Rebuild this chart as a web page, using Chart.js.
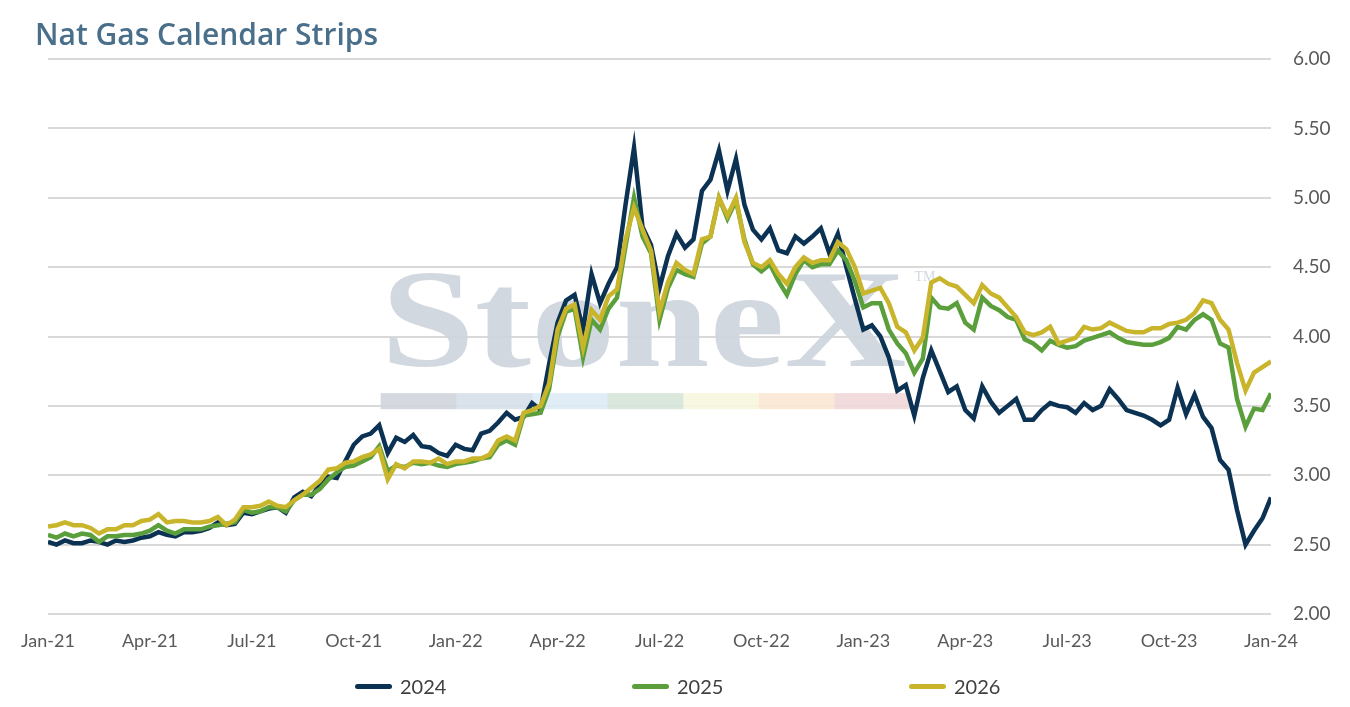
<!DOCTYPE html>
<html>
<head>
<meta charset="utf-8">
<script src="https://cdn.jsdelivr.net/npm/chart.js@4.4.1/dist/chart.umd.min.js"></script>
<style>
  body { margin: 0; background: #fff; }
  .wrap { position: relative; width: 1350px; height: 707px; }
  .legend { position: absolute; left: 355px; top: 674px; display: flex; font-family: Lato, sans-serif; font-size: 20px; color: #404040; }
  .legend .item { width: 277px; display: flex; align-items: center; }
  .legend .swatch { width: 37px; height: 5px; border-radius: 3px; margin-right: 8px; }
</style>
</head>
<body>
<div class="wrap">
  <canvas id="chart"></canvas>
  <div class="legend" id="legend"></div>
</div>
<script>
// quarterly tick labels, one every 3 months
const tickLabels = ['Jan-21','Apr-21','Jul-21','Oct-21','Jan-22','Apr-22','Jul-22','Oct-22','Jan-23','Apr-23','Jul-23','Oct-23','Jan-24'];
const seriesNames = ['2024', '2025', '2026'];
const seriesColors = ['#0b3253', '#5b9f3c', '#c9b52c'];

// weekly readings (4 per month) from Jan-21 to Jan-24
const strip2024 = [
  2.52,2.50,2.53,2.51, 2.51,2.53,2.52,2.50, 2.53,2.52,2.53,2.55, 2.56,2.59,2.57,2.56,
  2.59,2.59,2.60,2.62, 2.66,2.64,2.65,2.73, 2.72,2.74,2.76,2.77, 2.73,2.84,2.88,2.85,
  2.93,2.99,2.98,3.10, 3.22,3.28,3.30,3.36, 3.16,3.27,3.24,3.29, 3.21,3.20,3.16,3.14,
  3.22,3.19,3.18,3.30, 3.32,3.38,3.45,3.40, 3.42,3.52,3.47,3.80, 4.10,4.26,4.30,4.05,
  4.45,4.24,4.38,4.50, 4.95,5.36,4.79,4.66, 4.35,4.58,4.74,4.64, 4.70,5.05,5.13,5.34,
  5.05,5.28,4.95,4.77, 4.70,4.78,4.62,4.60, 4.72,4.67,4.72,4.78, 4.60,4.74,4.50,4.27,
  4.05,4.08,4.00,3.85, 3.61,3.65,3.43,3.70, 3.90,3.75,3.60,3.64, 3.47,3.41,3.64,3.53,
  3.45,3.50,3.55,3.40, 3.40,3.47,3.52,3.50, 3.49,3.45,3.52,3.47, 3.50,3.62,3.55,3.47,
  3.45,3.43,3.40,3.36, 3.40,3.63,3.44,3.58, 3.42,3.34,3.11,3.04, 2.75,2.50,2.60,2.69,
  2.84
];
const strip2025 = [
  2.57,2.55,2.58,2.56, 2.58,2.57,2.52,2.56, 2.56,2.57,2.57,2.58, 2.60,2.64,2.60,2.58,
  2.61,2.61,2.61,2.63, 2.64,2.65,2.66,2.75, 2.73,2.74,2.77,2.77, 2.74,2.82,2.86,2.86,
  2.90,2.97,3.02,3.06, 3.07,3.10,3.13,3.21, 3.03,3.07,3.06,3.09, 3.08,3.09,3.07,3.06,
  3.08,3.09,3.10,3.12, 3.13,3.22,3.25,3.22, 3.43,3.44,3.45,3.62, 4.00,4.18,4.20,3.85,
  4.12,4.05,4.20,4.28, 4.65,5.00,4.72,4.60, 4.12,4.35,4.48,4.45, 4.43,4.67,4.72,5.00,
  4.85,4.98,4.70,4.52, 4.47,4.52,4.40,4.30, 4.45,4.55,4.50,4.52, 4.52,4.62,4.55,4.40,
  4.21,4.24,4.24,4.05, 3.95,3.88,3.74,3.84, 4.28,4.21,4.20,4.24, 4.10,4.05,4.28,4.22,
  4.19,4.14,4.12,3.98, 3.95,3.90,3.97,3.94, 3.92,3.93,3.97,3.99, 4.01,4.03,3.99,3.96,
  3.95,3.94,3.94,3.96, 3.99,4.07,4.05,4.12, 4.16,4.12,3.95,3.92, 3.55,3.35,3.48,3.47,
  3.59
];
const strip2026 = [
  2.63,2.64,2.66,2.64, 2.64,2.62,2.58,2.61, 2.61,2.64,2.64,2.67, 2.68,2.72,2.66,2.67,
  2.67,2.66,2.66,2.67, 2.70,2.64,2.68,2.77, 2.77,2.78,2.81,2.78, 2.77,2.82,2.86,2.91,
  2.96,3.04,3.05,3.09, 3.10,3.13,3.15,3.19, 2.97,3.08,3.05,3.10, 3.10,3.09,3.12,3.08,
  3.10,3.10,3.12,3.12, 3.15,3.25,3.28,3.25, 3.45,3.47,3.50,3.66, 4.05,4.20,4.23,3.92,
  4.19,4.12,4.29,4.34, 4.70,4.93,4.77,4.62, 4.18,4.39,4.53,4.48, 4.45,4.70,4.72,5.00,
  4.87,5.00,4.68,4.53, 4.50,4.55,4.45,4.38, 4.50,4.57,4.53,4.55, 4.55,4.68,4.63,4.50,
  4.31,4.33,4.35,4.24, 4.07,4.03,3.90,3.99, 4.39,4.42,4.38,4.36, 4.30,4.24,4.37,4.31,
  4.28,4.21,4.14,4.03, 4.01,4.03,4.07,3.95, 3.97,3.99,4.07,4.05, 4.06,4.10,4.07,4.04,
  4.03,4.03,4.06,4.06, 4.09,4.10,4.12,4.17, 4.26,4.24,4.12,4.05, 3.81,3.61,3.74,3.78,
  3.82
];

const allSeries = [strip2024, strip2025, strip2026];

// months since Jan-21 for each weekly reading
const toPoints = vals => vals.map((v, i) => ({ x: i / 4, y: v }));

// faint StoneX watermark behind the lines
const watermark = {
  id: 'watermark',
  beforeDatasetsDraw(chart) {
    const { ctx, chartArea: a } = chart;
    const w = a.right - a.left, h = a.bottom - a.top;
    const x0 = a.left + w * 0.272, span = w * 0.43;
    ctx.save();
    ctx.globalAlpha = 0.9;
    ctx.fillStyle = '#cdd4dd';
    ctx.font = 'bold 140px "Liberation Serif", serif';
    ctx.textBaseline = 'alphabetic';
    const tw = ctx.measureText('StoneX').width;
    ctx.save();
    ctx.translate(x0, a.top + h * 0.553);
    ctx.scale(span / tw, 1);
    ctx.fillText('StoneX', 0, 0);
    ctx.restore();
    ctx.font = '14px "Liberation Serif", serif';
    ctx.fillText('TM', x0 + span + 8, a.top + h * 0.40);
    const bar = ['#d0d5dc', '#d6dfe9', '#deebf5', '#d6e4d8', '#f7f6df', '#f9e7d3', '#f1d7d8'];
    const bw = w * 0.433 / bar.length;
    bar.forEach((c, i) => {
      ctx.fillStyle = c;
      ctx.fillRect(x0 + i * bw, a.top + h * 0.602, bw + 0.5, h * 0.029);
    });
    ctx.restore();
  }
};

new Chart(document.getElementById('chart'), {
  type: 'line',
  data: {
    datasets: allSeries.map((vals, i) => ({
      label: seriesNames[i],
      data: toPoints(vals),
      borderColor: seriesColors[i],
      backgroundColor: seriesColors[i],
      borderWidth: 4.5,
      pointRadius: 0,
      tension: 0,
      fill: false,
      order: 3 - i
    }))
  },
  options: {
    responsive: true,
    maintainAspectRatio: false,
    animation: false,
    layout: { padding: { left: 35, right: 0, top: 0, bottom: 43 } },
    plugins: {
      legend: { display: false },
      tooltip: { enabled: false },
      title: {
        display: true,
        text: 'Nat Gas Calendar Strips',
        align: 'start',
        color: '#4a6f8a',
        font: { family: 'Open Sans', size: 30, weight: '600' },
        padding: { top: 18, bottom: 5 }
      }
    },
    scales: {
      x: {
        type: 'linear',
        min: 0,
        max: 36,
        grid: { display: false, drawTicks: false },
        border: { display: false },
        ticks: {
          stepSize: 3,
          autoSkip: false,
          maxRotation: 0,
          padding: 16,
          color: '#595959',
          font: { family: 'Lato', size: 18 },
          callback: v => tickLabels[v / 3]
        },
        afterFit: s => { s.height = 50; }
      },
      y: {
        position: 'right',
        min: 2,
        max: 6,
        grid: { color: '#d9d9d9', lineWidth: 2, drawTicks: false },
        border: { display: false },
        ticks: {
          stepSize: 0.5,
          padding: 22,
          color: '#595959',
          font: { family: 'Lato', size: 19 },
          callback: v => v.toFixed(2)
        },
        afterFit: s => { s.width = 79; }
      },
      pad: {
        position: 'left',
        display: true,
        grid: { display: false, drawTicks: false },
        border: { display: false },
        ticks: { display: false },
        afterFit: s => { s.width = 13; }
      }
    }
  },
  plugins: [watermark]
});

// legend under the axis
const legend = document.getElementById('legend');
seriesNames.forEach((name, i) => {
  const item = document.createElement('div');
  item.className = 'item';
  item.innerHTML = '<span class="swatch" style="background:' + seriesColors[i] + '"></span><span>' + name + '</span>';
  legend.appendChild(item);
});
</script>
</body>
</html>
